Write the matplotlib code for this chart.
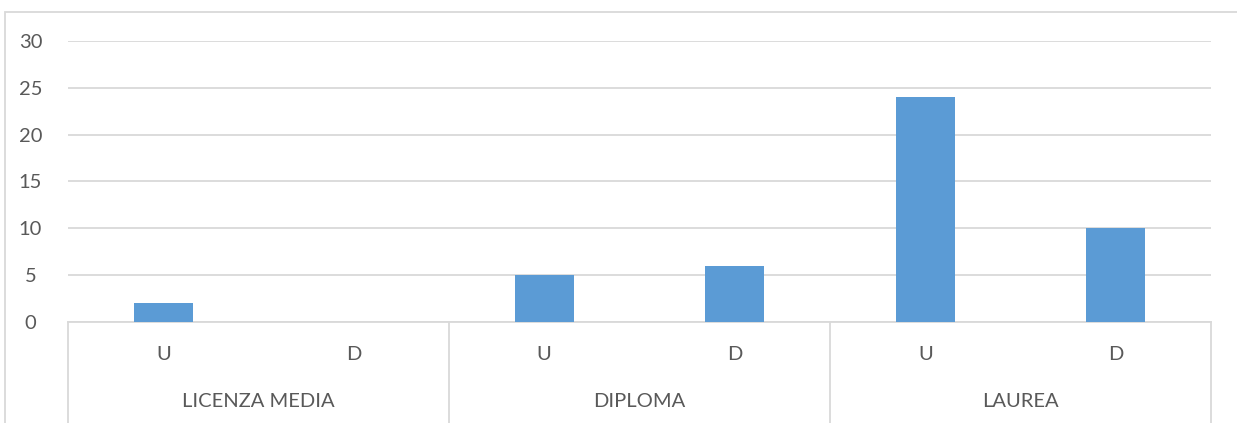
import matplotlib
matplotlib.use("Agg")
import matplotlib.pyplot as plt
from matplotlib.patches import Rectangle

groups = ["LICENZA MEDIA", "DIPLOMA", "LAUREA"]
subcats = ["U", "D"]
values = [2, 0, 5, 6, 24, 10]
yticks = [0, 5, 10, 15, 20, 25, 30]

W, H = 1237, 423
fig = plt.figure(figsize=(W / 100, H / 100), dpi=100)
plt.rcParams['font.family'] = ['Lato', 'DejaVu Sans']

x0, x1 = 68, 1211
ytop, ybot = 41, 322
ax = fig.add_axes([x0 / W, (H - ybot) / H, (x1 - x0) / W, (ybot - ytop) / H])

grid_c = "#D9D9D9"
text_c = "#595959"
bar_c = "#5B9BD5"
fs = 14.5

n = len(values)
xs = list(range(n))
ax.bar(xs, values, width=0.31, color=bar_c, zorder=3)
ax.set_xlim(-0.5, n - 0.5)
ax.set_ylim(0, 30)
ax.set_yticks(yticks)
ax.set_yticklabels([str(v) for v in yticks], color=text_c, fontsize=fs)
ax.tick_params(axis='y', length=0, pad=27)
ax.set_xticks([])
for s in ["top", "right", "left"]:
    ax.spines[s].set_visible(False)
ax.spines["bottom"].set_color(grid_c)
ax.spines["bottom"].set_linewidth(1.3)
ax.grid(axis='y', color=grid_c, linewidth=1.3, zorder=0)
for yl in ax.get_yticklabels():
    yl.set_horizontalalignment('center')

trans = ax.get_xaxis_transform()
ph = ybot - ytop
def yfrac(py):
    return -(py - ybot) / ph

# subcategory labels
for i in range(n):
    ax.text(xs[i], yfrac(354), subcats[i % 2], transform=trans, ha='center', va='center',
            color=text_c, fontsize=fs)
# group labels and separators
for g, name in enumerate(groups):
    ax.text(2 * g + 0.5, yfrac(401), name, transform=trans, ha='center', va='center',
            color=text_c, fontsize=fs)
for b in range(len(groups) + 1):
    xb = 2 * b - 0.5
    ax.plot([xb, xb], [0, yfrac(430)], transform=trans, color=grid_c, linewidth=1.3,
            clip_on=False)

# chart border (partially visible)
fig.patches.append(Rectangle((4.5 / W, -0.2), 2.0, (H - 12) / H + 0.2,
                             transform=fig.transFigure, fill=False,
                             edgecolor=grid_c, linewidth=1.3))

fig.savefig("out.png", dpi=100)
